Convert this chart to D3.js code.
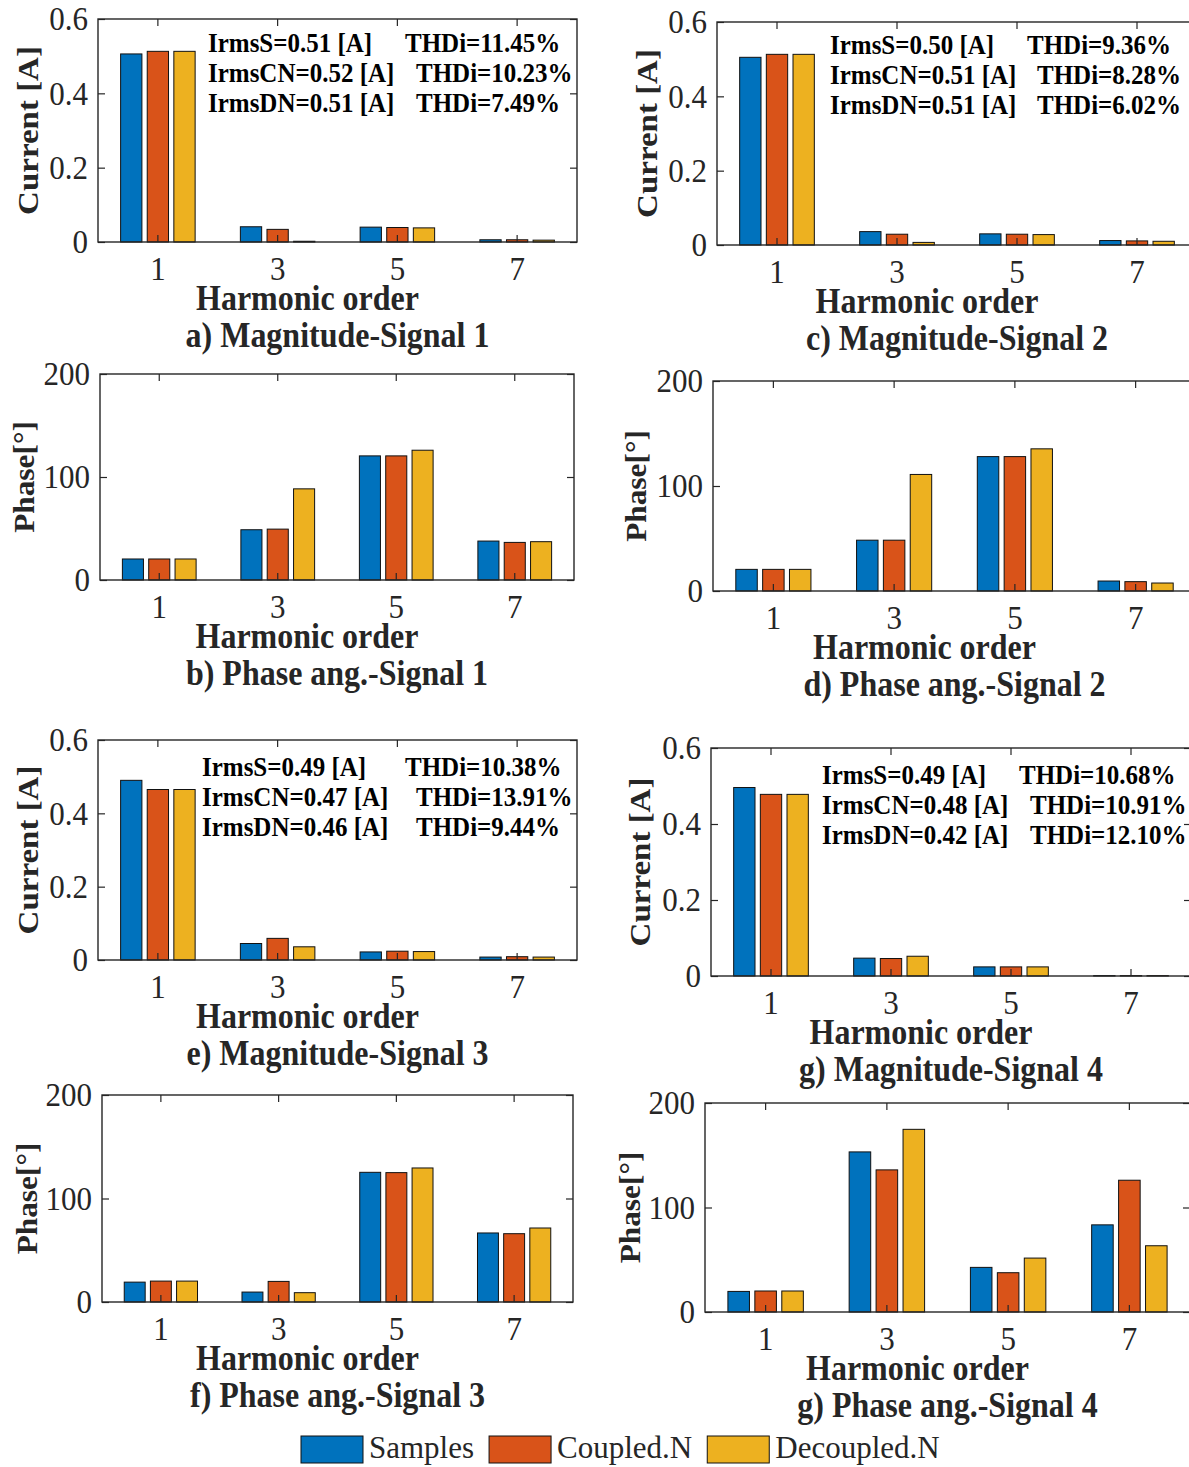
<!DOCTYPE html>
<html>
<head>
<meta charset="utf-8">
<script src="https://cdn.jsdelivr.net/npm/d3@7"></script>
<style>
  body { margin: 0; background: #fff; }
  svg { display: block; }
  text { font-family: "Liberation Serif", "Times New Roman", serif; }
</style>
</head>
<body>
<div id="vis"></div>
<script>
var harmonics = ["1", "3", "5", "7"];
var seriesNames = ["Samples", "Coupled.N", "Decoupled.N"];
var seriesColours = ["#0072BD", "#D95319", "#EDB120"];

// one row per harmonic: [Samples, Coupled.N, Decoupled.N]
var mag1 = [[0.506, 0.513, 0.513], [0.041, 0.034, 0.002], [0.040, 0.039, 0.038], [0.006, 0.006, 0.005]];
var mag2 = [[0.505, 0.513, 0.513], [0.036, 0.029, 0.007], [0.030, 0.029, 0.028], [0.012, 0.011, 0.010]];
var mag3 = [[0.490, 0.465, 0.465], [0.045, 0.059, 0.036], [0.022, 0.024, 0.023], [0.008, 0.009, 0.008]];
var mag4 = [[0.496, 0.478, 0.478], [0.047, 0.046, 0.052], [0.024, 0.024, 0.024], [0.001, 0.001, 0.001]];
var phase1 = [[20.4, 20.4, 20.4], [48.8, 49.4, 88.5], [120.5, 120.5, 126], [37.8, 36.5, 37.2]];
var phase2 = [[20.6, 20.6, 20.6], [48.4, 48.4, 111], [128, 128, 135.4], [9.5, 8.9, 7.6]];
var phase3 = [[19.2, 20.2, 20.2], [9.6, 19.9, 9.0], [125.3, 125, 129.5], [66.7, 66, 71.5]];
var phase4 = [[19.7, 20.1, 20.1], [153.2, 136, 174.8], [42.7, 37.6, 51.6], [83.4, 126.1, 63.4]];

var magTicks = [0, 0.2, 0.4, 0.6];
var phaseTicks = [0, 100, 200];

var irms1 = ["IrmsS=0.51 [A]", "IrmsCN=0.52 [A]", "IrmsDN=0.51 [A]"];
var thd1 = ["THDi=11.45%", "THDi=10.23%", "THDi=7.49%"];
var irms2 = ["IrmsS=0.50 [A]", "IrmsCN=0.51 [A]", "IrmsDN=0.51 [A]"];
var thd2 = ["THDi=9.36%", "THDi=8.28%", "THDi=6.02%"];
var irms3 = ["IrmsS=0.49 [A]", "IrmsCN=0.47 [A]", "IrmsDN=0.46 [A]"];
var thd3 = ["THDi=10.38%", "THDi=13.91%", "THDi=9.44%"];
var irms4 = ["IrmsS=0.49 [A]", "IrmsCN=0.48 [A]", "IrmsDN=0.42 [A]"];
var thd4 = ["THDi=10.68%", "THDi=10.91%", "THDi=12.10%"];

// layout of the 8 axes boxes (pixels)
var panels = [
  {data: mag1, ticks: magTicks, ylabel: "Current [A]", title: "a) Magnitude-Signal 1", irms: irms1, thd: thd1,
   left: 98, right: 577, top: 19, bottom: 242, ylab: 71, annX: 110, annY: 23, thdX: [197, 208, 208]},
  {data: mag2, ticks: magTicks, ylabel: "Current [A]", title: "c) Magnitude-Signal 2", irms: irms2, thd: thd2,
   left: 717, right: 1197, top: 22, bottom: 245, ylab: 71, annX: 113, annY: 22, thdX: [197, 207, 207]},
  {data: phase1, ticks: phaseTicks, ylabel: "Phase[°]", title: "b) Phase ang.-Signal 1",
   left: 100, right: 574, top: 374, bottom: 580, ylab: 76},
  {data: phase2, ticks: phaseTicks, ylabel: "Phase[°]", title: "d) Phase ang.-Signal 2",
   left: 713, right: 1196, top: 381, bottom: 591, ylab: 77},
  {data: mag3, ticks: magTicks, ylabel: "Current [A]", title: "e) Magnitude-Signal 3", irms: irms3, thd: thd3,
   left: 98, right: 577, top: 740, bottom: 960, ylab: 71, annX: 104, annY: 26, thdX: [203, 214, 214]},
  {data: mag4, ticks: magTicks, ylabel: "Current [A]", title: "g) Magnitude-Signal 4", irms: irms4, thd: thd4,
   left: 711, right: 1191, top: 748, bottom: 976, ylab: 72, annX: 111, annY: 26, thdX: [197, 208, 208]},
  {data: phase3, ticks: phaseTicks, ylabel: "Phase[°]", title: "f) Phase ang.-Signal 3",
   left: 102, right: 573, top: 1095, bottom: 1302, ylab: 75},
  {data: phase4, ticks: phaseTicks, ylabel: "Phase[°]", title: "g) Phase ang.-Signal 4",
   left: 705, right: 1190, top: 1103, bottom: 1312, ylab: 75}
];

var axisColour = "#262626";
var stretch = " scale(1,1.1)";   // picture is a little taller than wide

var svg = d3.select("#vis").append("svg")
  .attr("width", 1189)
  .attr("height", 1467);

function placeText(sel, x, y, rotate) {
  return sel.attr("transform", "translate(" + x + "," + y + ")" + stretch + (rotate ? " rotate(-90)" : ""));
}

panels.forEach(function (p) {
  var g = svg.append("g");

  var x = d3.scaleBand().domain(harmonics).range([p.left, p.right]);
  var xs = d3.scaleBand().domain([0, 1, 2])
    .range([-x.bandwidth() / 3, x.bandwidth() / 3])
    .paddingInner(0.2).paddingOuter(0.1);
  var y = d3.scaleLinear().domain([0, p.ticks[p.ticks.length - 1]]).range([p.bottom, p.top]);

  var groups = g.selectAll(".grp")
    .data(p.data)
    .enter()
    .append("g")
    .attr("class", "grp")
    .attr("transform", function (d, i) { return "translate(" + (x(harmonics[i]) + x.bandwidth() / 2) + ",0)"; });

  groups.selectAll("rect")
    .data(function (d) { return d; })
    .enter()
    .append("rect")
    .attr("x", function (d, j) { return xs(j); })
    .attr("y", function (d) { return y(d); })
    .attr("width", xs.bandwidth())
    .attr("height", function (d) { return y(0) - y(d); })
    .attr("fill", function (d, j) { return seriesColours[j]; })
    .attr("stroke", "#111")
    .attr("stroke-width", 1);

  // axes with inward ticks on all four sides
  var fmt = d3.format("~g");
  var left = g.append("g").attr("transform", "translate(" + p.left + ",0)")
    .call(d3.axisLeft(y).tickValues(p.ticks).tickSizeInner(-7).tickSizeOuter(0).tickPadding(10).tickFormat(fmt));
  var bottom = g.append("g").attr("transform", "translate(0," + p.bottom + ")")
    .call(d3.axisBottom(x).tickSizeInner(-7).tickSizeOuter(0).tickPadding(13));
  g.append("g").attr("transform", "translate(" + p.right + ",0)")
    .call(d3.axisRight(y).tickValues(p.ticks).tickSize(-7).tickFormat(""));
  g.append("g").attr("transform", "translate(0," + p.top + ")")
    .call(d3.axisTop(x).tickSize(-7).tickFormat(""));

  g.selectAll(".domain").remove();
  g.selectAll(".tick line").attr("stroke", axisColour).attr("stroke-width", 1.2);
  [left, bottom].forEach(function (a) {
    a.attr("font-size", 31).attr("font-family", null).attr("color", axisColour);
    a.selectAll("text").attr("transform", "scale(1,1.08)");
  });

  g.append("rect")
    .attr("x", p.left).attr("y", p.top)
    .attr("width", p.right - p.left).attr("height", p.bottom - p.top)
    .attr("fill", "none").attr("stroke", axisColour).attr("stroke-width", 1.4);

  var cx = (p.left + p.right) / 2;

  placeText(g.append("text"), p.left - p.ylab, (p.top + p.bottom) / 2, true)
    .attr("text-anchor", "middle").attr("dy", "0.35em")
    .attr("font-size", p.ticks === magTicks ? 30 : 28.5).attr("font-weight", "bold").attr("fill", axisColour)
    .text(p.ylabel);

  placeText(g.append("text"), cx - 30, p.bottom + 56)
    .attr("text-anchor", "middle").attr("dy", "0.35em")
    .attr("font-size", 32).attr("font-weight", "bold").attr("fill", axisColour)
    .text("Harmonic order");

  placeText(g.append("text"), cx, p.bottom + 93)
    .attr("text-anchor", "middle").attr("dy", "0.35em")
    .attr("font-size", 32).attr("font-weight", "bold").attr("fill", axisColour)
    .text(p.title);

  if (p.irms) {
    p.irms.forEach(function (s, i) {
      var ty = p.top + p.annY + i * 30;
      placeText(g.append("text"), p.left + p.annX, ty)
        .attr("dy", "0.35em").attr("font-size", 25).attr("font-weight", "bold")
        .text(s);
      placeText(g.append("text"), p.left + p.annX + p.thdX[i], ty)
        .attr("dy", "0.35em").attr("font-size", 25).attr("font-weight", "bold")
        .text(p.thd[i]);
    });
  }
});

// legend
var legend = svg.append("g");
var lx = 301;
seriesNames.forEach(function (name, i) {
  legend.append("rect")
    .attr("x", lx).attr("y", 1436)
    .attr("width", 62).attr("height", 27)
    .attr("fill", seriesColours[i]).attr("stroke", "#111").attr("stroke-width", 1);
  var t = legend.append("text")
    .attr("x", lx + 68).attr("y", 1447)
    .attr("dy", "0.35em").attr("font-size", 31).attr("fill", axisColour)
    .text(name);
  lx += 68 + t.node().getComputedTextLength() + 15;
});
</script>
</body>
</html>
